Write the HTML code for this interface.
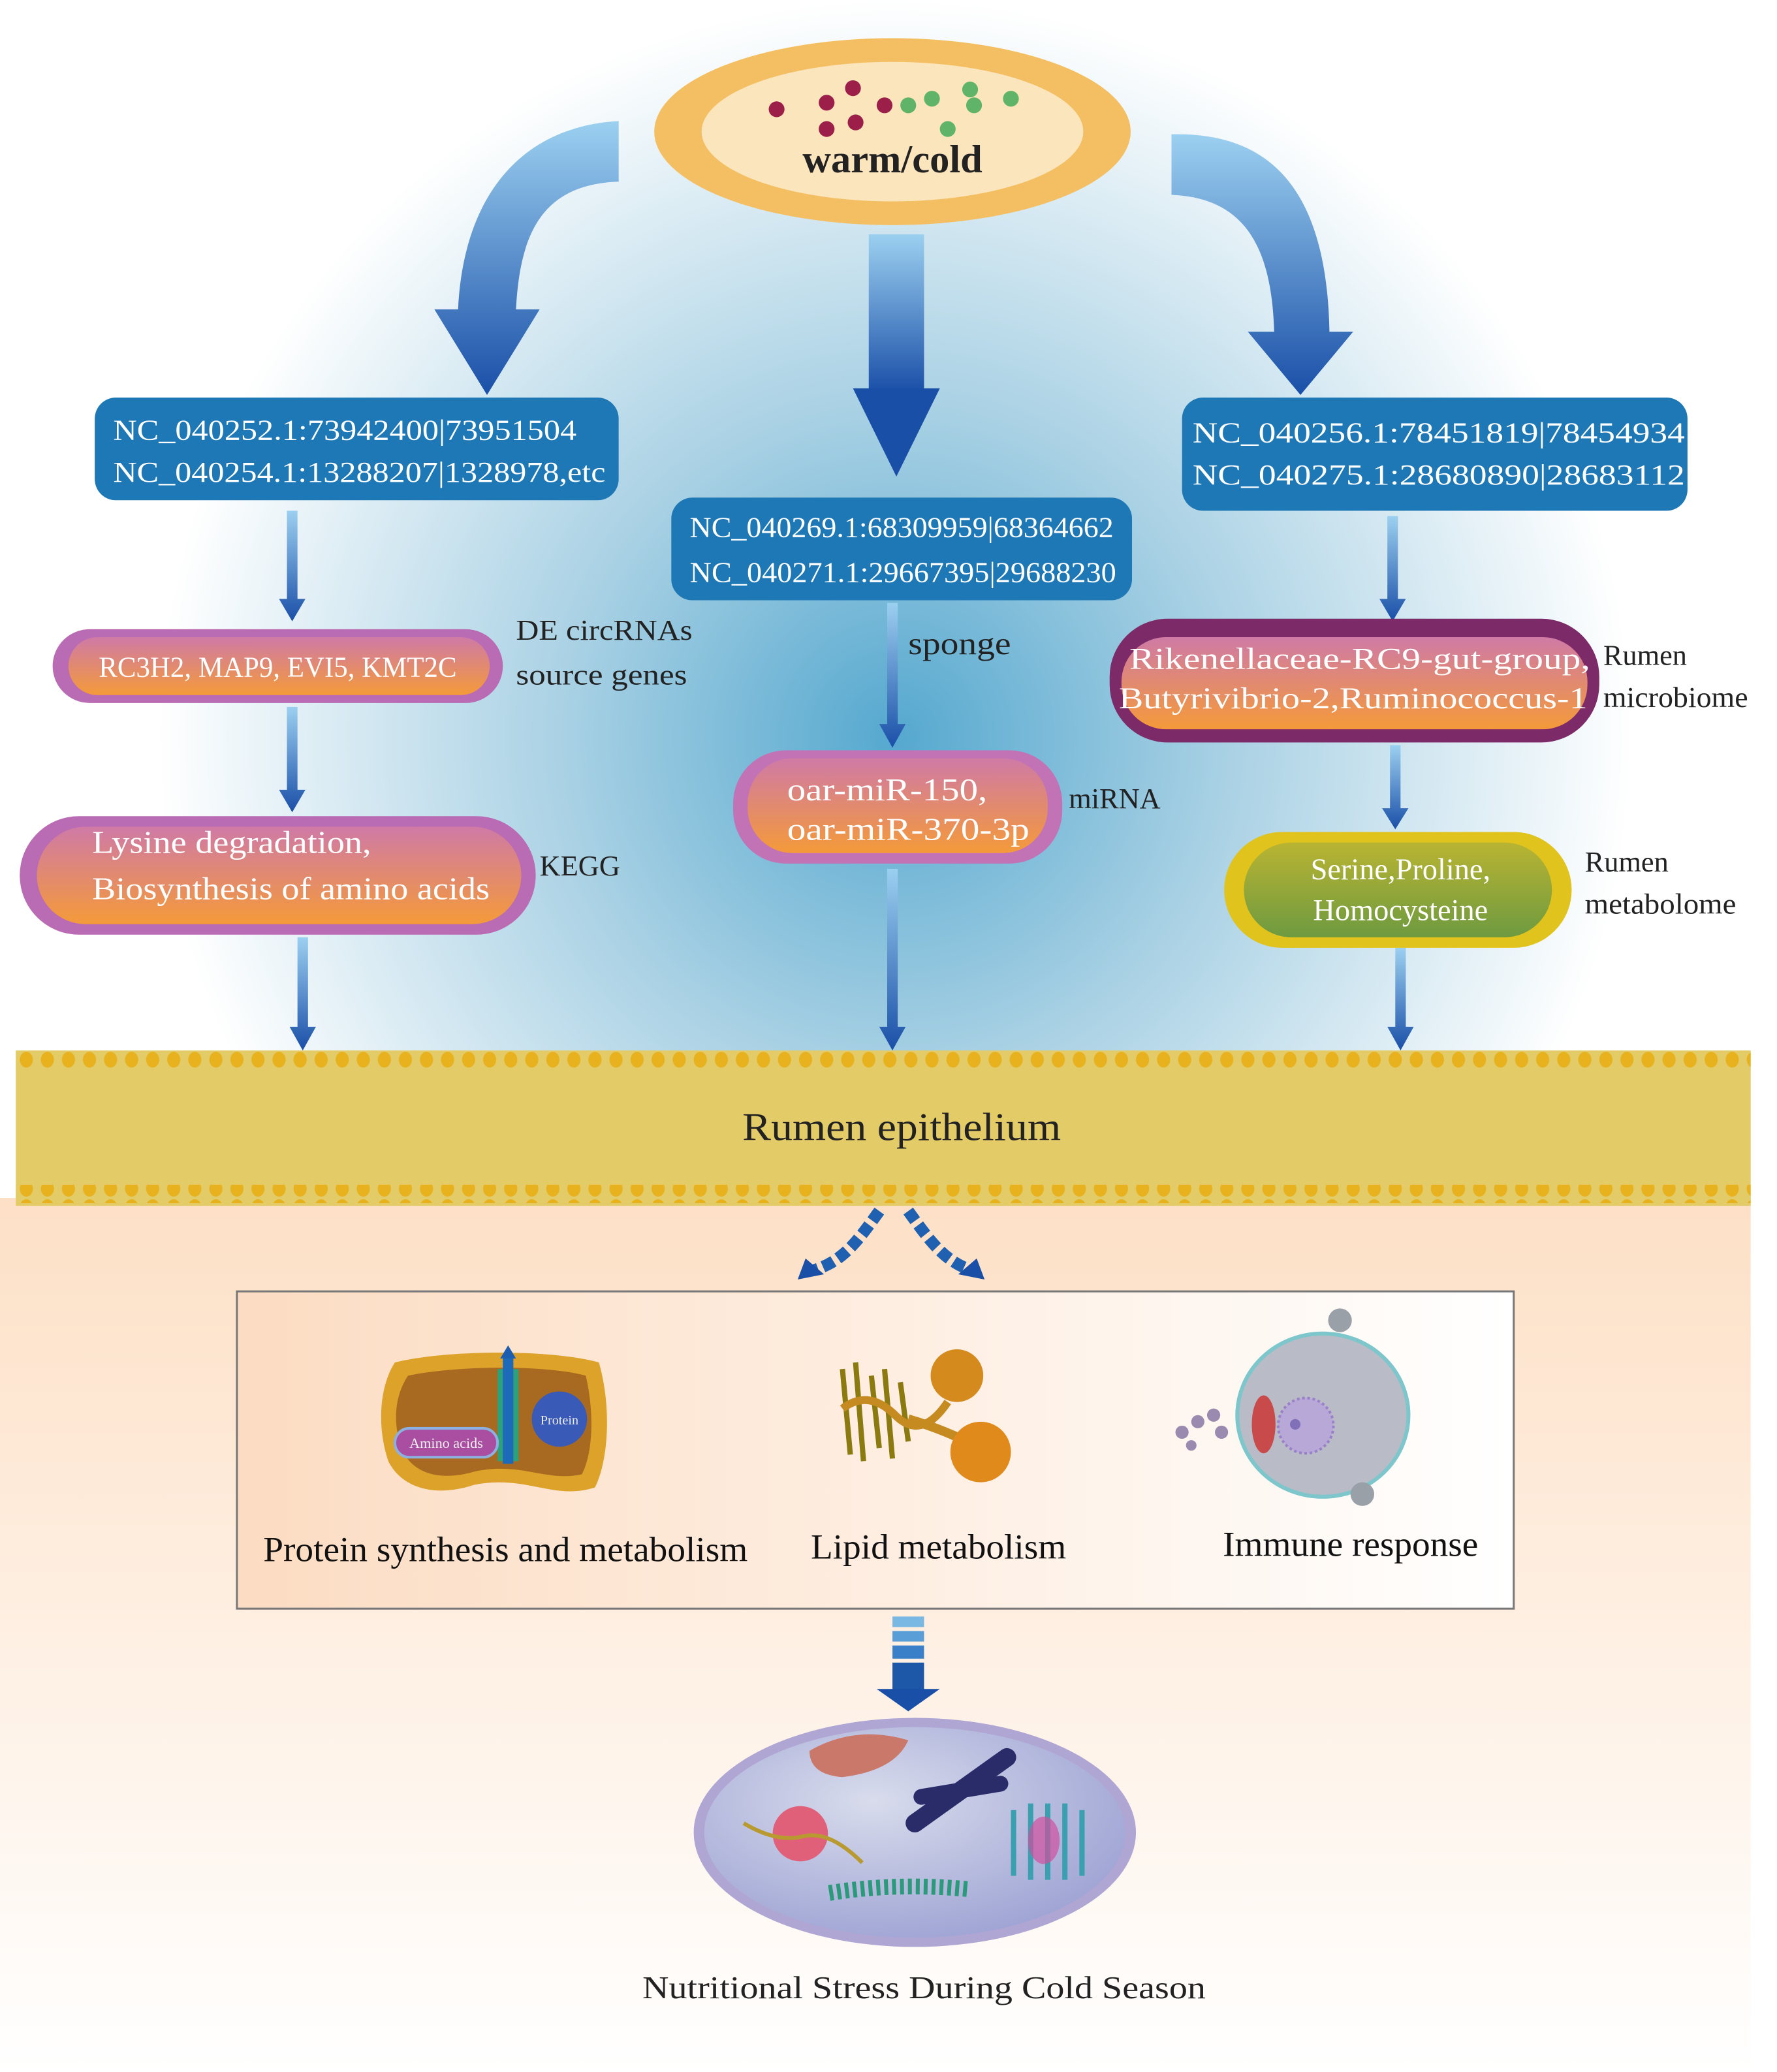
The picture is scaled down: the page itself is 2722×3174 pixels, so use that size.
<!DOCTYPE html>
<html><head><meta charset="utf-8"><style>
html,body{margin:0;padding:0;background:#fff;width:2722px;height:3174px;overflow:hidden}
svg{display:block}
text{font-family:"Liberation Serif","Times New Roman",serif}
</style></head><body>
<svg width="2722" height="3174" viewBox="0 0 1350 1574" preserveAspectRatio="none" xmlns="http://www.w3.org/2000/svg" font-family="Liberation Serif, serif">
<defs>
<radialGradient id="bg" cx="680" cy="560" r="560" gradientUnits="userSpaceOnUse">
<stop offset="0" stop-color="#55a8cf"/><stop offset="0.45" stop-color="#a9d1e4"/><stop offset="1" stop-color="#ffffff"/></radialGradient>
<linearGradient id="peach" x1="0" y1="0" x2="0" y2="1"><stop offset="0" stop-color="#fde0c6"/><stop offset="1" stop-color="#ffffff"/></linearGradient>
<linearGradient id="arr" x1="0" y1="0" x2="0" y2="1"><stop offset="0" stop-color="#9cd0f0"/><stop offset="1" stop-color="#1a4fa8"/></linearGradient>
<linearGradient id="or" x1="0" y1="0" x2="0" y2="1"><stop offset="0" stop-color="#cf7aa6"/><stop offset="1" stop-color="#f49a3a"/></linearGradient>
<linearGradient id="gr" x1="0" y1="0" x2="0" y2="1"><stop offset="0" stop-color="#b9b432"/><stop offset="1" stop-color="#6e9a40"/></linearGradient>
<linearGradient id="box" x1="0" y1="0" x2="1" y2="0"><stop offset="0" stop-color="#fcdcc2"/><stop offset="1" stop-color="#ffffff"/></linearGradient>
<radialGradient id="nuc" cx="0.4" cy="0.35" r="0.7"><stop offset="0" stop-color="#d8dcec"/><stop offset="1" stop-color="#9ea3d4"/></radialGradient>
<pattern id="dots" x="12" y="0" width="16" height="14" patternUnits="userSpaceOnUse"><rect width="16" height="14" fill="#e3cb68"/><ellipse cx="8" cy="7" rx="5" ry="6" fill="#e7b21e"/></pattern>
</defs>
<rect width="1350" height="800" fill="url(#bg)"/>
<rect y="910" width="1350" height="664" fill="url(#peach)"/>
<rect x="1330" y="910" width="20" height="664" fill="#fff"/>
<ellipse cx="678" cy="100" rx="181" ry="71" fill="#f4bf62"/>
<ellipse cx="678" cy="100" rx="145" ry="53" fill="#fbe5bd"/>
<g fill="#9b1f48"><circle cx="590" cy="83" r="6"/><circle cx="628" cy="78" r="6"/><circle cx="648" cy="67" r="6"/><circle cx="628" cy="98" r="6"/><circle cx="650" cy="93" r="6"/><circle cx="672" cy="80" r="6"/></g>
<g fill="#5fb46a"><circle cx="690" cy="80" r="6"/><circle cx="708" cy="75" r="6"/><circle cx="737" cy="68" r="6"/><circle cx="740" cy="80" r="6"/><circle cx="720" cy="98" r="6"/><circle cx="768" cy="75" r="6"/></g>
<text x="678" y="131" font-size="30" font-weight="bold" text-anchor="middle" fill="#222">warm/cold</text>
<path d="M470 92 L470 138 C410 140 395 180 392 235 L410 235 L370 300 L330 235 L348 235 C352 150 395 96 470 92 Z" fill="url(#arr)"/>
<rect x="660" y="178" width="42" height="120" fill="url(#arr)"/>
<path d="M648 295 L714 295 L681 362 Z" fill="#1a4fa8"/>
<path d="M890 102 C970 100 1008 150 1010 252 L1028 252 L988 300 L948 252 L968 252 C966 180 940 150 890 148 Z" fill="url(#arr)"/>
<rect x="72" y="302" width="398" height="78" rx="16" fill="#1e78b6"/>
<text x="86" y="334" font-size="22" fill="#fff" textLength="352" lengthAdjust="spacingAndGlyphs">NC_040252.1:73942400|73951504</text>
<text x="86" y="366" font-size="22" fill="#fff" textLength="374" lengthAdjust="spacingAndGlyphs">NC_040254.1:13288207|1328978,etc</text>
<rect x="510" y="378" width="350" height="78" rx="16" fill="#1e78b6"/>
<text x="524" y="408" font-size="22" fill="#fff" textLength="322" lengthAdjust="spacingAndGlyphs">NC_040269.1:68309959|68364662</text>
<text x="524" y="442" font-size="22" fill="#fff" textLength="324" lengthAdjust="spacingAndGlyphs">NC_040271.1:29667395|29688230</text>
<rect x="898" y="302" width="384" height="86" rx="16" fill="#1e78b6"/>
<text x="906" y="336" font-size="22" fill="#fff" textLength="374" lengthAdjust="spacingAndGlyphs">NC_040256.1:78451819|78454934</text>
<text x="906" y="368" font-size="22" fill="#fff" textLength="374" lengthAdjust="spacingAndGlyphs">NC_040275.1:28680890|28683112</text>
<g fill="url(#arr)">
<path d="M218 388 L226 388 L226 455 L232 455 L222 472 L212 455 L218 455 Z"/>
<path d="M218 537 L226 537 L226 600 L232 600 L222 617 L212 600 L218 600 Z"/>
<path d="M226 712 L234 712 L234 780 L240 780 L230 798 L220 780 L226 780 Z"/>
<path d="M674 458 L682 458 L682 550 L688 550 L678 568 L668 550 L674 550 Z"/>
<path d="M674 660 L682 660 L682 780 L688 780 L678 798 L668 780 L674 780 Z"/>
<path d="M1054 392 L1062 392 L1062 455 L1068 455 L1058 472 L1048 455 L1054 455 Z"/>
<path d="M1056 566 L1064 566 L1064 614 L1070 614 L1060 630 L1050 614 L1056 614 Z"/>
<path d="M1060 720 L1068 720 L1068 780 L1074 780 L1064 798 L1054 780 L1060 780 Z"/>
</g>
<rect x="40" y="478" width="342" height="56" rx="28" fill="#b96bb3"/>
<rect x="52" y="484" width="320" height="44" rx="22" fill="url(#or)"/>
<text x="211" y="514" font-size="22" fill="#fff" text-anchor="middle" textLength="272" lengthAdjust="spacingAndGlyphs">RC3H2, MAP9, EVI5, KMT2C</text>
<text x="392" y="486" font-size="22" fill="#222" textLength="134" lengthAdjust="spacingAndGlyphs">DE circRNAs</text>
<text x="392" y="520" font-size="22" fill="#222" textLength="130" lengthAdjust="spacingAndGlyphs">source  genes</text>
<rect x="15" y="620" width="392" height="90" rx="45" fill="#b96bb3"/>
<rect x="28" y="628" width="368" height="74" rx="37" fill="url(#or)"/>
<text x="70" y="648" font-size="24" fill="#fff" textLength="212" lengthAdjust="spacingAndGlyphs">Lysine degradation,</text>
<text x="70" y="683" font-size="24" fill="#fff" textLength="302" lengthAdjust="spacingAndGlyphs">Biosynthesis of amino acids</text>
<text x="410" y="665" font-size="22" fill="#222">KEGG</text>
<rect x="557" y="570" width="250" height="86" rx="40" fill="#c273b5"/>
<rect x="568" y="576" width="228" height="72" rx="34" fill="url(#or)"/>
<text x="598" y="608" font-size="24" fill="#fff" textLength="152" lengthAdjust="spacingAndGlyphs">oar-miR-150,</text>
<text x="598" y="638" font-size="24" fill="#fff" textLength="184" lengthAdjust="spacingAndGlyphs">oar-miR-370-3p</text>
<text x="812" y="614" font-size="22" fill="#222">miRNA</text>
<text x="690" y="497" font-size="24" fill="#222" textLength="78" lengthAdjust="spacingAndGlyphs">sponge</text>
<rect x="843" y="470" width="372" height="94" rx="44" fill="#7c2b68"/>
<rect x="852" y="484" width="354" height="70" rx="34" fill="url(#or)"/>
<text x="858" y="508" font-size="23" fill="#fff" textLength="350" lengthAdjust="spacingAndGlyphs">Rikenellaceae-RC9-gut-group,</text>
<text x="850" y="538" font-size="23" fill="#fff" textLength="356" lengthAdjust="spacingAndGlyphs">Butyrivibrio-2,Ruminococcus-1</text>
<text x="1218" y="505" font-size="22" fill="#222">Rumen</text>
<text x="1218" y="537" font-size="22" fill="#222" textLength="110" lengthAdjust="spacingAndGlyphs">microbiome</text>
<rect x="930" y="632" width="264" height="88" rx="44" fill="#e0c31d"/>
<rect x="945" y="640" width="234" height="72" rx="36" fill="url(#gr)"/>
<text x="1064" y="668" font-size="23" fill="#fff" text-anchor="middle">Serine,Proline,</text>
<text x="1064" y="699" font-size="23" fill="#fff" text-anchor="middle">Homocysteine</text>
<text x="1204" y="662" font-size="22" fill="#222">Rumen</text>
<text x="1204" y="694" font-size="22" fill="#222" textLength="115" lengthAdjust="spacingAndGlyphs">metabolome</text>
<rect x="12" y="798" width="1318" height="118" fill="#e3cb68"/>
<rect x="12" y="799" width="1318" height="14" fill="url(#dots)"/>
<rect x="12" y="900" width="1318" height="14" fill="url(#dots)"/>
<text x="685" y="866" font-size="30" fill="#222" text-anchor="middle" textLength="242" lengthAdjust="spacingAndGlyphs">Rumen epithelium</text>
<path d="M668 920 C650 945 640 958 618 965" stroke="#2060b0" stroke-width="9" fill="none" stroke-dasharray="9 4"/>
<path d="M606 972 L612 956 L626 968 Z" fill="#1a4fa8"/>
<path d="M690 920 C708 945 718 958 738 965" stroke="#2060b0" stroke-width="9" fill="none" stroke-dasharray="9 4"/>
<path d="M748 972 L742 956 L728 968 Z" fill="#1a4fa8"/>
<rect x="180" y="981" width="970" height="241" fill="url(#box)" stroke="#777" stroke-width="1.5"/>
<path d="M300 1035 C340 1025 420 1025 455 1035 C465 1070 462 1110 452 1130 C420 1140 400 1120 360 1128 C330 1138 305 1130 295 1110 C285 1080 290 1050 300 1035 Z" fill="#dca22a"/>
<path d="M310 1045 C350 1037 415 1037 445 1045 C452 1075 450 1105 442 1120 C415 1126 395 1110 360 1118 C332 1126 312 1118 305 1100 C298 1080 300 1060 310 1045 Z" fill="#a86a20"/>
<rect x="378" y="1040" width="16" height="70" fill="#2ea07a"/>
<path d="M380 1032 L392 1032 L386 1022 Z" fill="#1d5eb0"/>
<rect x="382" y="1032" width="8" height="80" fill="#1d6ab8"/>
<rect x="300" y="1085" width="78" height="22" rx="11" fill="#a94ea0" stroke="#8cb0e0" stroke-width="2"/>
<text x="339" y="1100" font-size="11" fill="#eee" text-anchor="middle">Amino acids</text>
<circle cx="425" cy="1078" r="21" fill="#3a5ab8"/>
<text x="425" y="1082" font-size="10" fill="#eee" text-anchor="middle">Protein</text>
<text x="384" y="1186" font-size="27" fill="#111" text-anchor="middle" textLength="368" lengthAdjust="spacingAndGlyphs">Protein synthesis and metabolism</text>
<path d="M640 1040 L646 1105 M650 1035 L656 1110 M662 1045 L668 1100 M672 1040 L678 1108 M684 1050 L690 1095" stroke="#8a7a10" stroke-width="4" fill="none"/>
<path d="M640 1070 Q660 1055 680 1075 T720 1065" stroke="#c58a20" stroke-width="6" fill="none"/>
<path d="M690 1078 Q715 1085 745 1100" stroke="#c58a20" stroke-width="7" fill="none"/>
<circle cx="727" cy="1045" r="20" fill="#d58a1e"/>
<circle cx="745" cy="1103" r="23" fill="#e08a1c"/>
<text x="713" y="1184" font-size="27" fill="#111" text-anchor="middle" textLength="194" lengthAdjust="spacingAndGlyphs">Lipid metabolism</text>
<ellipse cx="1005" cy="1075" rx="65" ry="62" fill="#b9bcc6" stroke="#7cc6cc" stroke-width="3"/>
<circle cx="1018" cy="1003" r="9" fill="#9aa0a8"/>
<circle cx="1035" cy="1135" r="9" fill="#9aa0a8"/>
<ellipse cx="960" cy="1082" rx="9" ry="22" fill="#c84a4a"/>
<circle cx="992" cy="1083" r="21" fill="#b8a8d8" stroke="#9a80c8" stroke-width="2" stroke-dasharray="2 2"/>
<circle cx="984" cy="1082" r="4" fill="#8070b8"/>
<g fill="#9a8ab0"><circle cx="898" cy="1088" r="5"/><circle cx="910" cy="1080" r="5"/><circle cx="922" cy="1075" r="5"/><circle cx="928" cy="1088" r="5"/><circle cx="905" cy="1098" r="4"/></g>
<text x="1026" y="1182" font-size="27" fill="#111" text-anchor="middle" textLength="194" lengthAdjust="spacingAndGlyphs">Immune response</text>
<g><rect x="678" y="1228" width="24" height="8" fill="#7ab8e4"/><rect x="678" y="1239" width="24" height="8" fill="#5a9ed8"/><rect x="678" y="1250" width="24" height="10" fill="#3a80c8"/><rect x="678" y="1263" width="24" height="22" fill="#1d58a8"/></g>
<path d="M666 1283 L714 1283 L690 1300 Z" fill="#1a4fa8"/>
<ellipse cx="695" cy="1392" rx="168" ry="87" fill="#b0a6d4"/>
<ellipse cx="695" cy="1392" rx="160" ry="80" fill="url(#nuc)"/>
<path d="M615 1330 Q650 1310 690 1322 Q680 1345 640 1350 Q615 1348 615 1330 Z" fill="#c9786a"/>
<path d="M695 1385 L765 1335" stroke="#2a2c6a" stroke-width="14" stroke-linecap="round"/>
<path d="M700 1365 L760 1355" stroke="#2a2c6a" stroke-width="12" stroke-linecap="round"/>
<circle cx="608" cy="1393" r="21" fill="#e0607a"/>
<path d="M565 1385 Q590 1400 610 1395 T655 1415" stroke="#b89a30" stroke-width="3" fill="none"/>
<path d="M630 1438 Q680 1430 735 1435" stroke="#2a9a7a" stroke-width="12" fill="none" stroke-dasharray="3 3"/>
<path d="M770 1375 L770 1425 M783 1370 L783 1428 M796 1370 L796 1428 M809 1370 L809 1428 M822 1375 L822 1425" stroke="#3aa0b0" stroke-width="4" fill="none"/>
<ellipse cx="793" cy="1398" rx="12" ry="18" fill="#d050a0" opacity="0.7"/>
<text x="702" y="1518" font-size="24" fill="#222" text-anchor="middle" textLength="428" lengthAdjust="spacingAndGlyphs">Nutritional Stress During Cold Season</text>
</svg>
</body></html>
